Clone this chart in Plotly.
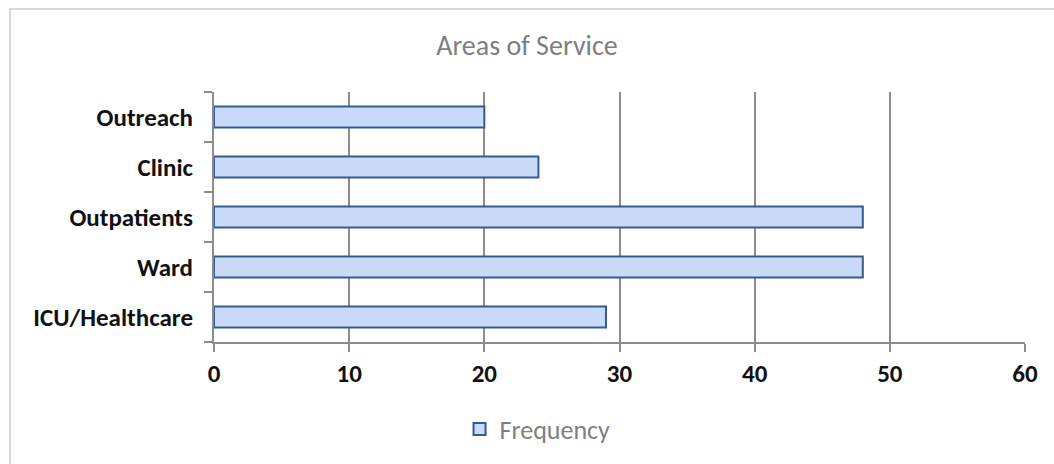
import plotly.graph_objects as go

# Service areas, listed bottom to top as they appear on the axis
areas = ["ICU/Healthcare", "Ward", "Outpatients", "Clinic", "Outreach"]
frequency = [29, 48, 48, 24, 20]
x_ticks = [0, 10, 20, 30, 40, 50, 60]

FONT = "Carlito, Lato, 'Open Sans', sans-serif"
AXIS_GREY = "#8c8c8c"
LABEL_FONT = dict(size=25, color="#111111", family=FONT, weight="bold")

fig = go.Figure()
fig.add_trace(go.Bar(
    y=areas,
    x=frequency,
    orientation="h",
    name="Frequency",
    width=0.42,
    marker=dict(color="#c9dbf8", line=dict(color="#365b8f", width=2)),
))

fig.update_layout(
    width=1054,
    height=464,
    margin=dict(l=214, r=29, t=92, b=122),
    paper_bgcolor="white",
    plot_bgcolor="white",
    font=dict(family=FONT),
    title=dict(
        text="Areas of Service",
        x=0.5, xref="container", xanchor="center",
        y=1 - 45 / 464, yref="container", yanchor="middle",
        font=dict(size=28, color="#7f7f7f", family=FONT),
    ),
    showlegend=True,
    legend=dict(
        orientation="h",
        x=0.51, xref="container", xanchor="center",
        y=1 - 429 / 464, yref="container", yanchor="middle",
        font=dict(size=26, color="#7f7f7f", family=FONT),
        itemwidth=30,
    ),
    bargap=0.58,
)

fig.update_xaxes(
    range=[0, 60],
    tickvals=x_ticks,
    ticktext=[str(v) for v in x_ticks],
    showgrid=True, gridcolor=AXIS_GREY, gridwidth=2,
    showline=True, linecolor=AXIS_GREY, linewidth=2,
    ticks="outside", ticklen=8, tickcolor=AXIS_GREY, tickwidth=2,
    tickfont=LABEL_FONT,
    zeroline=False,
    fixedrange=True,
)
fig.update_yaxes(
    type="category",
    categoryorder="array", categoryarray=areas,
    showgrid=False,
    showline=True, linecolor=AXIS_GREY, linewidth=2,
    ticks="outside", ticklen=8, tickcolor=AXIS_GREY, tickwidth=2,
    tickson="boundaries",
    ticklabelstandoff=14,
    tickfont=LABEL_FONT,
    fixedrange=True,
)

# Light frame around the chart area (top and left edges)
fig.add_shape(type="line", xref="paper", yref="paper",
              x0=(9 - 214) / 811, x1=1.05, y0=(342 - 9) / 250, y1=(342 - 9) / 250,
              line=dict(color="#d9d9d9", width=2))
fig.add_shape(type="line", xref="paper", yref="paper",
              x0=(10 - 214) / 811, x1=(10 - 214) / 811, y0=(342 - 9) / 250, y1=-0.6,
              line=dict(color="#d9d9d9", width=2))

fig.write_html("out.html", config={"displayModeBar": False})
